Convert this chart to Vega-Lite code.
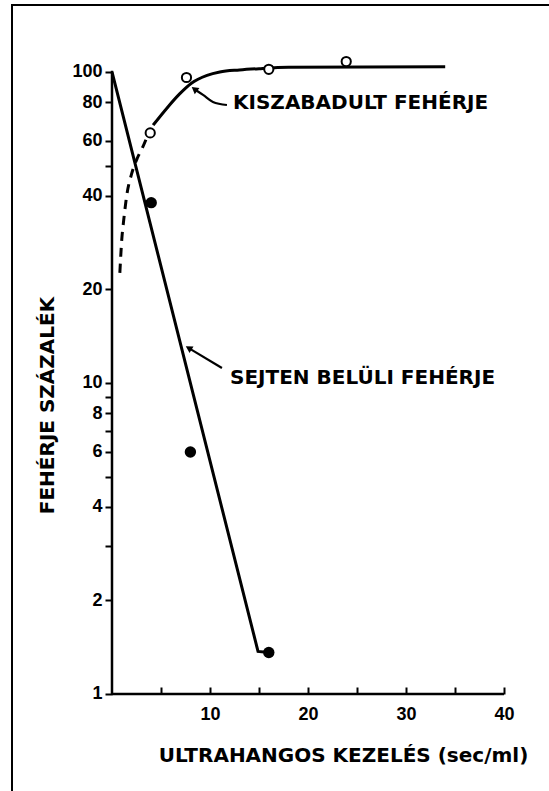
{
  "$schema": "https://vega.github.io/schema/vega-lite/v6.json",
  "width": 540,
  "height": 790,
  "autosize": {"type": "none"},
  "padding": {"left": 12, "top": 5, "right": 0, "bottom": 0},
  "background": "white",
  "config": {"view": {"stroke": "black", "strokeWidth": 2}, "font": "DejaVu Sans"},
  "datasets": {
    "axes": [{"x": 0, "y": 1, "x2": 0, "y2": 101}, {"x": 0, "y": 1, "x2": 40, "y2": 1}],
    "cell_pts": [{"x": 4, "y": 38}, {"x": 8, "y": 6}, {"x": 16, "y": 1.36}],
    "rel_pts": [{"x": 3.9, "y": 63.7}, {"x": 7.6, "y": 96}, {"x": 16, "y": 102}, {"x": 23.9, "y": 108}],
    "cell_line": [{"x": 0, "y": 100}, {"x": 14.9, "y": 1.37}, {"x": 16, "y": 1.36}],
    "rel_curve": [{"x": 4.2, "y": 67.5}, {"x": 5.6, "y": 76.5}, {"x": 6.9, "y": 85}, {"x": 8.1, "y": 92}, {"x": 9.7, "y": 97.5}, {"x": 11, "y": 100}, {"x": 13, "y": 101.5}, {"x": 15, "y": 102.5}, {"x": 18, "y": 103.5}, {"x": 34, "y": 104}],
    "dashed": [{"x": 0.8, "y": 22.6}, {"x": 1.0, "y": 29}, {"x": 1.2, "y": 33.5}, {"x": 1.5, "y": 40}, {"x": 2.0, "y": 47}, {"x": 2.6, "y": 53}, {"x": 3.1, "y": 57}, {"x": 3.5, "y": 61}],
    "arrow1": [{"x": 11.73, "y": 78.3}, {"x": 10.3, "y": 80.1}, {"x": 9.29, "y": 84.4}, {"x": 8.5, "y": 87.7}],
    "arrow2": [{"x": 11.22, "y": 11.17}, {"x": 7.92, "y": 12.9}],
    "head1": [{"x": 8.5, "y": 87.7}],
    "head2": [{"x": 7.92, "y": 12.9}],
    "labels": [{"x": 12.35, "y": 79.5, "label": "KISZABADULT FEHÉRJE"}, {"x": 12.04, "y": 10.4, "label": "SEJTEN BELÜLI FEHÉRJE"}]
  },
  "encoding": {
    "x": {
      "field": "x", "type": "quantitative",
      "scale": {"domain": [-10.204, 44.898], "nice": false, "zero": false},
      "axis": {
        "values": [5, 10, 15, 20, 25, 30, 35, 40], "format": "d",
        "labelExpr": "datum.value % 10 === 0 ? datum.label : ''",
        "domain": false, "grid": false, "offset": -101,
        "tickSize": -7, "tickWidth": 2, "tickColor": "black",
        "labelPadding": 18, "labelFont": "Liberation Sans", "labelFontWeight": "bold", "labelFontSize": 18, "labelColor": "black",
        "labelFlush": false, "labelOverlap": false,
        "title": "ULTRAHANGOS KEZELÉS (sec/ml)", "titleFont": "DejaVu Sans", "titleFontWeight": "bold", "titleFontSize": 20, "titleColor": "black",
        "titleX": 331, "titleY": 61, "titleBaseline": "middle", "titleAlign": "center"
      }
    },
    "y": {
      "field": "y", "type": "quantitative",
      "scale": {"type": "log", "domain": [0.4733, 164.2], "nice": false},
      "axis": {
        "values": [1, 2, 3, 4, 5, 6, 7, 8, 9, 10, 20, 40, 50, 60, 80, 100], "format": "d",
        "labelExpr": "indexof([1,2,4,6,8,10,20,40,60,80,100], datum.value) >= 0 ? datum.label : ''",
        "domain": false, "grid": false, "offset": -100,
        "tickSize": 7, "tickWidth": 2, "tickColor": "black",
        "labelPadding": 3, "labelFont": "Liberation Sans", "labelFontWeight": "bold", "labelFontSize": 18, "labelColor": "black",
        "labelFlush": false, "labelOverlap": false,
        "title": "FEHÉRJE SZÁZALÉK", "titleFont": "DejaVu Sans", "titleFontWeight": "bold", "titleFontSize": 20, "titleColor": "black",
        "titleX": -65, "titleY": 400, "titleAngle": -90, "titleBaseline": "middle", "titleAlign": "center"
      }
    }
  },
  "layer": [
    {"data": {"name": "axes"}, "mark": {"type": "rule", "color": "black", "strokeWidth": 2.5}, "encoding": {"x2": {"field": "x2"}, "y2": {"field": "y2"}}},
    {"data": {"name": "cell_line"}, "mark": {"type": "line", "color": "black", "strokeWidth": 3}, "encoding": {"order": {"field": "x"}}},
    {"data": {"name": "rel_curve"}, "mark": {"type": "line", "color": "black", "strokeWidth": 3, "interpolate": "monotone"}, "encoding": {"order": {"field": "x"}}},
    {"data": {"name": "dashed"}, "mark": {"type": "line", "color": "black", "strokeWidth": 3, "interpolate": "monotone", "strokeDash": [9, 7]}, "encoding": {"order": {"field": "x"}}},
    {"data": {"name": "arrow1"}, "mark": {"type": "line", "color": "black", "strokeWidth": 2.2, "interpolate": "monotone"}, "encoding": {"order": {"field": "x"}}},
    {"data": {"name": "arrow2"}, "mark": {"type": "line", "color": "black", "strokeWidth": 2.2}, "encoding": {"order": {"field": "x"}}},
    {"data": {"name": "head1"}, "mark": {"type": "point", "shape": "triangle", "filled": true, "color": "black", "size": 60, "angle": 307, "opacity": 1}},
    {"data": {"name": "head2"}, "mark": {"type": "point", "shape": "triangle", "filled": true, "color": "black", "size": 60, "angle": 301, "opacity": 1}},
    {"data": {"name": "cell_pts"}, "mark": {"type": "circle", "color": "black", "size": 130, "opacity": 1}},
    {"data": {"name": "rel_pts"}, "mark": {"type": "point", "shape": "circle", "fill": "white", "stroke": "black", "strokeWidth": 2, "size": 85, "filled": true, "opacity": 1}},
    {"data": {"name": "labels"}, "mark": {"type": "text", "align": "left", "baseline": "middle", "font": "DejaVu Sans", "fontWeight": "bold", "fontSize": 20, "color": "black"}, "encoding": {"text": {"field": "label"}}}
  ]
}
